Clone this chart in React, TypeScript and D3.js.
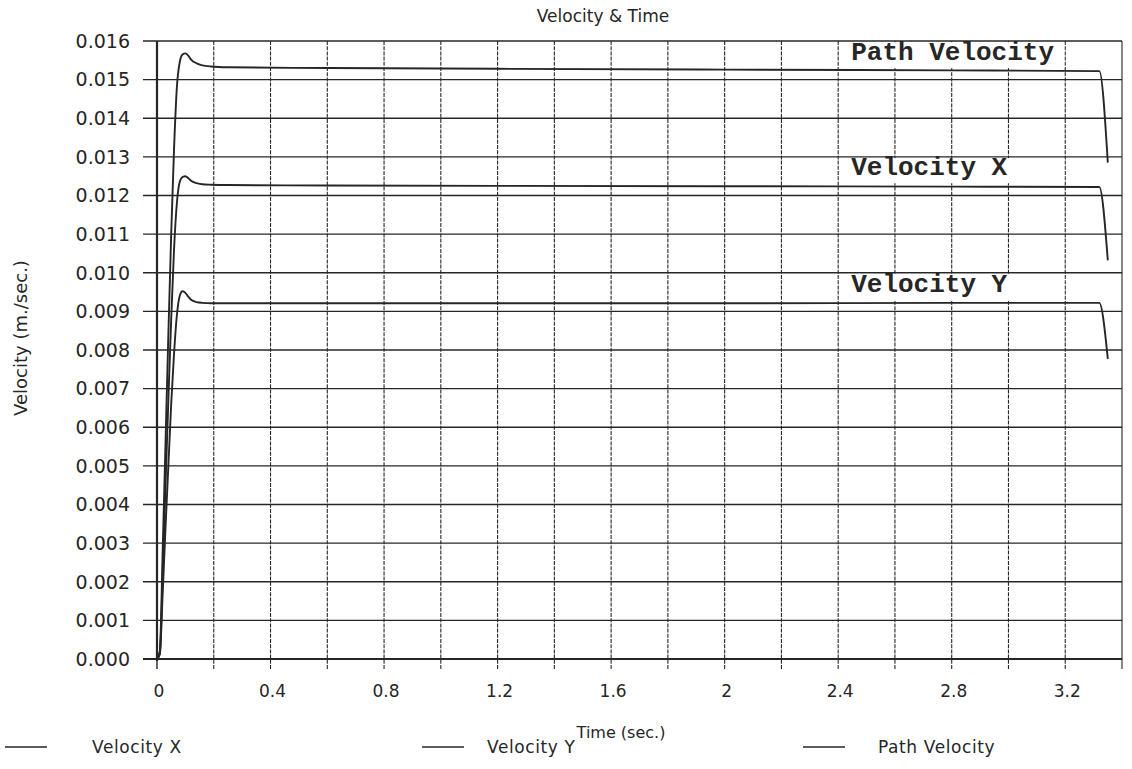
import React from "react";
import * as d3 from "d3";

// Sample times (s) shared by all three series
const times = [0, 0.01, 0.02, 0.03, 0.04, 0.05, 0.06, 0.07, 0.08, 0.09, 0.1, 0.11, 0.12, 0.14, 0.16, 0.19, 0.25, 0.6, 1.2, 2.0, 2.8, 3.32, 3.35];

// Velocities in m/sec
const pathVelocity = [0, 0.0002, 0.0028, 0.0056, 0.0084, 0.011, 0.0132, 0.0148, 0.01545, 0.01565, 0.01568, 0.01562, 0.01552, 0.01542, 0.01537, 0.01534, 0.01532, 0.0153, 0.01528, 0.01526, 0.01524, 0.01522, 0.01285];
const velocityX = [0, 0.00016, 0.0022, 0.0045, 0.0067, 0.0088, 0.0106, 0.0118, 0.01235, 0.01248, 0.0125, 0.01245, 0.01238, 0.01232, 0.01229, 0.01228, 0.01227, 0.01226, 0.01225, 0.01224, 0.01223, 0.01222, 0.01032];
const velocityY = [0, 0.00012, 0.0017, 0.0034, 0.005, 0.0066, 0.0079, 0.0089, 0.0094, 0.00952, 0.00948, 0.00938, 0.0093, 0.00924, 0.00922, 0.00921, 0.00921, 0.00921, 0.00921, 0.00921, 0.00922, 0.00922, 0.00777];

const yTicks = d3.range(0, 17).map((i) => i / 1000);
const yTickLabels = yTicks.map((v) => v.toFixed(3));
const xGrid = d3.range(1, 18).map((i) => +(i * 0.2).toFixed(1));
const xTickValues = [0, 0.4, 0.8, 1.2, 1.6, 2, 2.4, 2.8, 3.2];
const xTickLabels = ["0", "0.4", "0.8", "1.2", "1.6", "2", "2.4", "2.8", "3.2"];

const seriesNames = ["Velocity X", "Velocity Y", "Path Velocity"];
const seriesValues = [velocityX, velocityY, pathVelocity];

// In-plot callouts: text, plateau value it sits on, gridline value above it
const calloutNames = ["Path Velocity", "Velocity X", "Velocity Y"];
const calloutPlateaus = [0.01522, 0.01224, 0.00922];
const calloutTops = [0.016, 0.013, 0.01];

const W = 1132;
const H = 769;
const left = 157;
const right = 1122;
const top = 41;
const bottom = 659;

const sans = "'DejaVu Sans', sans-serif";
const mono = "'Liberation Mono', 'DejaVu Sans Mono', monospace";
const ink = "#262626";

export default function App() {
  const x = d3.scaleLinear().domain([0, 3.4]).range([left, right]);
  const y = d3.scaleLinear().domain([0, 0.016]).range([bottom, top]);

  const line = d3
    .line<number>()
    .x((_, i) => x(times[i]))
    .y((d) => y(d))
    .curve(d3.curveMonotoneX);

  return (
    <svg
      width={W}
      height={H}
      viewBox={`0 0 ${W} ${H}`}
      style={{ position: "absolute", left: 0, top: 0, background: "#fff" }}
    >
      {/* title */}
      <text x={603} y={22} textAnchor="middle" fontFamily={sans} fontSize={17} fill={ink}>
        Velocity &amp; Time
      </text>

      {/* vertical grid, every 0.2 s, extending below the axis as ticks */}
      {xGrid.map((t) => (
        <line
          key={"vx" + t}
          x1={x(t)}
          x2={x(t)}
          y1={top}
          y2={bottom + 10}
          stroke={ink}
          strokeWidth={1.1}
          strokeDasharray={t === 3.4 ? undefined : "4 1.2"}
        />
      ))}
      <line x1={x(0)} x2={x(0)} y1={bottom} y2={bottom + 10} stroke={ink} strokeWidth={1.4} />

      {/* horizontal grid, with ticks to the left of the axis */}
      {yTicks.map((v) => (
        <line
          key={"hy" + v}
          x1={left - 14}
          x2={right}
          y1={y(v)}
          y2={y(v)}
          stroke={ink}
          strokeWidth={v === 0 ? 1.8 : 1.4}
        />
      ))}

      {/* y axis */}
      <line x1={left} x2={left} y1={top} y2={bottom + 2} stroke={ink} strokeWidth={2.2} />

      {/* y tick labels */}
      {yTicks.map((v, i) => (
        <text
          key={"yl" + v}
          x={130}
          y={y(v)}
          dy="0.36em"
          textAnchor="end"
          fontFamily={sans}
          fontSize={19}
          fill={ink}
        >
          {yTickLabels[i]}
        </text>
      ))}

      {/* x tick labels */}
      {xTickValues.map((t, i) => (
        <text
          key={"xl" + t}
          x={x(t) + 2}
          y={697}
          textAnchor="middle"
          fontFamily={sans}
          fontSize={17}
          fill={ink}
        >
          {xTickLabels[i]}
        </text>
      ))}

      {/* axis titles */}
      <text x={621} y={738} textAnchor="middle" fontFamily={sans} fontSize={16} fill={ink}>
        Time (sec.)
      </text>
      <text
        transform={`translate(27, ${338}) rotate(-90)`}
        textAnchor="middle"
        fontFamily={sans}
        fontSize={18}
        fill={ink}
      >
        Velocity (m./sec.)
      </text>

      {/* in-plot callouts with white backing boxes */}
      {calloutNames.map((name, i) => {
        const y0 = y(calloutTops[i]) + 1.2;
        const y1 = y(calloutPlateaus[i]) - 3;
        return (
          <g key={"co" + name}>
            <rect x={x(2.4) + 1} y={y0} width={x(3.2) - x(2.4) - 2} height={y1 - y0} fill="#fff" />
            <text
              x={x(2.4) + 13}
              y={y(calloutPlateaus[i]) - 11}
              fontFamily={mono}
              fontWeight="bold"
              fontSize={26}
              fill={ink}
            >
              {name}
            </text>
          </g>
        );
      })}

      {/* series */}
      {seriesValues.map((vals, i) => (
        <path
          key={"s" + seriesNames[i]}
          d={line(vals) || ""}
          fill="none"
          stroke={ink}
          strokeWidth={1.9}
          strokeLinejoin="round"
        />
      ))}

      {/* legend */}
      {[
        { lx: 5, tx: 92 },
        { lx: 422, tx: 487 },
        { lx: 803, tx: 878 },
      ].map((p, i) => (
        <g key={"lg" + i}>
          <line x1={p.lx} x2={p.lx + 42} y1={747} y2={747} stroke={ink} strokeWidth={1.4} />
          <text x={p.tx} y={753} fontFamily={sans} fontSize={17} letterSpacing={0.6} fill={ink}>
            {seriesNames[i]}
          </text>
        </g>
      ))}
    </svg>
  );
}
